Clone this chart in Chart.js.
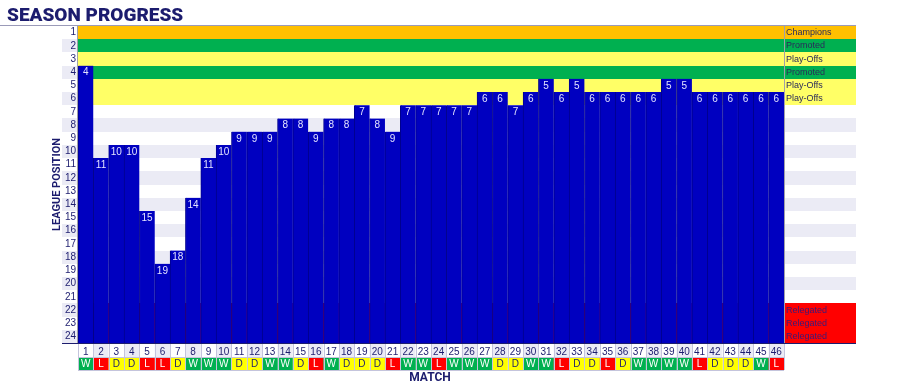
<!DOCTYPE html>
<html>
<head>
<meta charset="utf-8">
<script src="https://cdn.jsdelivr.net/npm/chart.js@4.4.1/dist/chart.umd.min.js"></script>
<style>
  html, body { margin: 0; padding: 0; background: #fff; }
  #wrap { width: 900px; height: 386px; }
</style>
</head>
<body>
<div id="wrap"><canvas id="season"></canvas></div>
<script>
const matches = ["1","2","3","4","5","6","7","8","9","10","11","12","13","14","15","16","17","18","19","20","21","22","23","24","25","26","27","28","29","30","31","32","33","34","35","36","37","38","39","40","41","42","43","44","45","46"];
const leaguePosition = [4,11,10,10,15,19,18,14,11,10,9,9,9,8,8,9,8,8,7,8,9,7,7,7,7,7,6,6,7,6,5,6,5,6,6,6,6,6,5,5,6,6,6,6,6,6];
const results = ["W","L","D","D","L","L","D","W","W","W","D","D","W","W","D","L","W","D","D","D","L","W","W","L","W","W","W","D","D","W","W","L","D","D","L","D","W","W","W","W","L","D","D","D","W","L"];
const positionLabels = ["1","2","3","4","5","6","7","8","9","10","11","12","13","14","15","16","17","18","19","20","21","22","23","24"];
const zones = ["Champions","Promoted","Play-Offs","Promoted","Play-Offs","Play-Offs","","","","","","","","","","","","","","","","Relegated","Relegated","Relegated"];

const NAVY = "#1c1c6e";
const STRIPE = "#ebebf5";
const zoneFill = { "Champions": "#ffc000", "Promoted": "#00b050", "Play-Offs": "#ffff66", "Relegated": "#ff0000" };
const resultFill = { W: "#00b050", L: "#ff0000", D: "#ffff00" };
const resultInk = { W: "#ffffff", L: "#ffffff", D: "#1c1c6e" };
const ROWS = positionLabels.length;
const LABEL_COL_END = 856;

// bar height counts up from the bottom of row 24 to the top of the position row
const barValues = leaguePosition.map((p) => ROWS + 1 - p);

const sheetPlugin = {
  id: "sheet",
  beforeDraw(chart) {
    const { ctx, chartArea: a, scales } = chart;
    const y = scales.y;
    const x = scales.x;
    ctx.save();
    ctx.fillStyle = "#fff";
    ctx.fillRect(0, 0, chart.width, chart.height);

    // row bands + left label stripes + right zone column
    positionLabels.forEach((lab, i) => {
      const r = i + 1;
      const top = Math.round(y.getPixelForValue(ROWS + 1 - r));
      const bot = Math.round(y.getPixelForValue(ROWS - r));
      const even = r % 2 === 0;
      ctx.fillStyle = zoneFill[zones[i]] || (even ? STRIPE : "#fff");
      ctx.fillRect(a.left, top, LABEL_COL_END - a.left, bot - top);
      ctx.fillStyle = even ? STRIPE : "#fff";
      ctx.fillRect(62, top, a.left - 62, bot - top);
      if (zones[i]) {
        ctx.fillStyle = zones[i] === "Relegated" ? "#3a1a7a" : "#2a2a5a";
        ctx.font = "9px 'Liberation Sans', Arial, sans-serif";
        ctx.textAlign = "left";
        ctx.textBaseline = "middle";
        ctx.fillText(zones[i], a.right + 2, (top + bot) / 2 + 0.5);
      }
    });

    // match number row and result row
    const w = (a.right - a.left) / matches.length;
    const r1 = Math.round(a.bottom) + 1, r2 = r1 + 13, r3 = r2 + 13;
    matches.forEach((m, i) => {
      const cx = x.getPixelForValue(i);
      const left = cx - w / 2;
      ctx.fillStyle = i % 2 === 1 ? STRIPE : "#fff";
      ctx.fillRect(left, r1, w, r2 - r1);
      ctx.fillStyle = resultFill[results[i]];
      ctx.fillRect(left, r2, w, r3 - r2);
      ctx.fillStyle = resultInk[results[i]];
      ctx.font = "10px 'Liberation Sans', Arial, sans-serif";
      ctx.textAlign = "center";
      ctx.textBaseline = "middle";
      ctx.fillText(results[i], cx, (r2 + r3) / 2 + 1);
    });
    ctx.strokeStyle = "#c4c4dc";
    ctx.lineWidth = 1;
    ctx.beginPath();
    for (let i = 0; i <= matches.length; i++) {
      const lx = Math.round(a.left + i * w) + 0.5;
      ctx.moveTo(lx, r1);
      ctx.lineTo(lx, r3);
    }
    ctx.moveTo(a.left, r2 + 0.5);
    ctx.lineTo(a.right, r2 + 0.5);
    ctx.moveTo(a.left, r3 + 0.5);
    ctx.lineTo(a.right, r3 + 0.5);
    ctx.stroke();

    // frame lines
    ctx.strokeStyle = "#9a9ab8";
    ctx.beginPath();
    ctx.moveTo(0, Math.round(a.top) - 0.5);
    ctx.lineTo(LABEL_COL_END, Math.round(a.top) - 0.5);
    ctx.stroke();
    ctx.strokeStyle = "#a0a0a8";
    ctx.beginPath();
    ctx.moveTo(a.left - 0.5, a.top);
    ctx.lineTo(a.left - 0.5, a.bottom);
    ctx.moveTo(a.right + 0.5, a.top);
    ctx.lineTo(a.right + 0.5, a.bottom);
    ctx.stroke();

    // titles
    ctx.fillStyle = NAVY;
    ctx.textAlign = "left";
    ctx.textBaseline = "alphabetic";
    ctx.font = "900 19px Roboto, 'Liberation Sans', sans-serif";
    ctx.fillText("SEASON PROGRESS", 7, 21);
    ctx.textAlign = "center";
    ctx.textBaseline = "middle";
    ctx.font = "bold 12px Roboto, 'Liberation Sans', sans-serif";
    ctx.fillText("MATCH", 430, 378);
    ctx.save();
    ctx.translate(57, (a.top + a.bottom) / 2);
    ctx.rotate(-Math.PI / 2);
    ctx.font = "bold 11px Roboto, 'Liberation Sans', sans-serif";
    ctx.fillText("LEAGUE POSITION", 0, 0);
    ctx.restore();
    ctx.restore();
  },
  afterDatasetsDraw(chart) {
    const { ctx, chartArea: a } = chart;
    const rowH = (a.bottom - a.top) / ROWS;
    const meta = chart.getDatasetMeta(0);
    ctx.save();
    ctx.fillStyle = "#e4e4ff";
    ctx.font = "10px 'Liberation Sans', Arial, sans-serif";
    ctx.textAlign = "center";
    ctx.textBaseline = "middle";
    meta.data.forEach((bar, i) => {
      ctx.fillText(String(leaguePosition[i]), bar.x, bar.y + rowH / 2 + 0.5);
    });
    // bottom rule under row 24
    ctx.strokeStyle = NAVY;
    ctx.lineWidth = 1;
    ctx.beginPath();
    ctx.moveTo(62, Math.round(a.bottom) + 0.5);
    ctx.lineTo(LABEL_COL_END, Math.round(a.bottom) + 0.5);
    ctx.stroke();
    ctx.restore();
  },
};

new Chart(document.getElementById("season"), {
  type: "bar",
  data: {
    labels: matches,
    datasets: [
      {
        data: barValues,
        backgroundColor: "#0000c0",
        borderColor: "#00008c",
        borderWidth: { left: 1, right: 0, top: 0, bottom: 0 },
        borderSkipped: false,
        barPercentage: 1,
        categoryPercentage: 1,
      },
    ],
  },
  options: {
    responsive: true,
    maintainAspectRatio: false,
    animation: false,
    layout: { padding: { left: 0, top: 26, right: 116, bottom: 0 } },
    plugins: {
      legend: { display: false },
      tooltip: { enabled: false },
    },
    scales: {
      x: {
        grid: { display: false, drawTicks: false },
        border: { display: false },
        ticks: {
          color: NAVY,
          font: { size: 10, family: "'Liberation Sans', Arial, sans-serif" },
          padding: 3,
          maxRotation: 0,
          autoSkip: false,
        },
        afterFit(scale) {
          scale.height = 43;
        },
      },
      y: {
        min: 0,
        max: ROWS,
        grid: { display: false, drawTicks: false },
        border: { display: false },
        afterBuildTicks(scale) {
          scale.ticks = positionLabels.map((p) => ({ value: ROWS + 0.5 - Number(p) }));
        },
        ticks: {
          color: NAVY,
          font: { size: 10, family: "'Liberation Sans', Arial, sans-serif" },
          padding: 2,
          autoSkip: false,
          callback: (v) => String(Math.round(ROWS + 0.5 - v)),
        },
        afterFit(scale) {
          scale.width = 78;
        },
      },
    },
  },
  plugins: [sheetPlugin],
});
</script>
</body>
</html>
